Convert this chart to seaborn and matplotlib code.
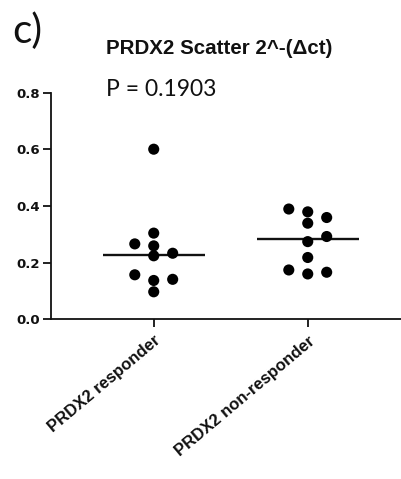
import numpy as np
import pandas as pd
import matplotlib
matplotlib.use("Agg")
import matplotlib.pyplot as plt
import seaborn as sns

# ---- data ----
categories = ["PRDX2 responder", "PRDX2 non-responder"]
responder = [0.600, 0.304, 0.266, 0.259, 0.224, 0.233, 0.157, 0.137, 0.141, 0.097]
non_responder = [0.379, 0.389, 0.359, 0.339, 0.292, 0.274, 0.218, 0.160, 0.174, 0.166]
yticks = [0.0, 0.2, 0.4, 0.6, 0.8]
title = "PRDX2 Scatter 2^-(\u0394ct)"
p_text = "P = 0.1903"
panel = "c)"

sns.set_theme(style="ticks")
plt.rcParams["font.family"] = ["Liberation Sans", "DejaVu Sans"]

df = pd.DataFrame({
    "group": [categories[0]] * len(responder) + [categories[1]] * len(non_responder),
    "value": responder + non_responder,
})


def column_offsets(values, thr=0.035, step=0.123):
    """Greedy Prism-like column placement: center, right, left, ..."""
    order = np.argsort(values)
    placed = []  # (col, value)
    offs = np.zeros(len(values))
    for i in order:
        v = values[i]
        for col in [0, 1, -1, 2, -2, 3, -3]:
            if all(not (c == col and abs(v - pv) < thr) for c, pv in placed):
                placed.append((col, v))
                offs[i] = col * step
                break
    return offs


xpos = []
for gi, cat in enumerate(categories):
    vals = df.loc[df["group"] == cat, "value"].to_numpy()
    xpos.extend(gi + column_offsets(vals))
df["x"] = xpos

fig = plt.figure(figsize=(4.02, 4.79), dpi=100)
ax = fig.add_axes([51 / 402, 159.7 / 479, 1 - 51 / 402, 226.8 / 479])

# median lines
sns.boxplot(data=df, x="group", y="value", order=categories, ax=ax,
            showbox=False, showcaps=False, showfliers=False, whis=0,
            whiskerprops={"visible": False},
            medianprops={"color": "#111111", "linewidth": 1.7},
            width=0.66, zorder=2)

# points
sns.scatterplot(data=df, x="x", y="value", ax=ax, color="black", s=64,
                edgecolor="none", zorder=3, clip_on=False, legend=False)

ax.set_xlim(-0.667, 1.612)
ax.set_ylim(0, 0.8)
ax.set_xticks(range(len(categories)))
ax.set_xticklabels(categories, rotation=40, ha="right", rotation_mode="anchor",
                   fontsize=12, fontweight="bold", color="#111111")
ax.set_yticks(yticks)
ax.set_yticklabels([f"{t:.1f}" for t in yticks], fontsize=9.5, fontweight="bold",
                   color="#111111", family=["DejaVu Sans"])
ax.set_xlabel("")
ax.set_ylabel("")

sns.despine(ax=ax, top=True, right=True)
for sp in ["left", "bottom"]:
    ax.spines[sp].set_linewidth(1.3)
    ax.spines[sp].set_color("#111111")
ax.tick_params(axis="both", length=6, width=1.3, color="#111111", pad=2)
ax.tick_params(axis="x", pad=4)

fig.text(106 / 402, 1 - 48 / 479, title, fontsize=14.8, fontweight="bold",
         ha="left", va="center", color="#111111")
fig.text(106 / 402, 1 - 90 / 479, p_text, fontsize=16.5, ha="left", va="center",
         color="#111111", family=["Lato", "DejaVu Sans"])
fig.text(12 / 402, 1 - 31 / 479, panel, fontsize=29, ha="left", va="center",
         color="#111111", family=["Lato", "DejaVu Sans"])

fig.savefig("out.png", dpi=100)
